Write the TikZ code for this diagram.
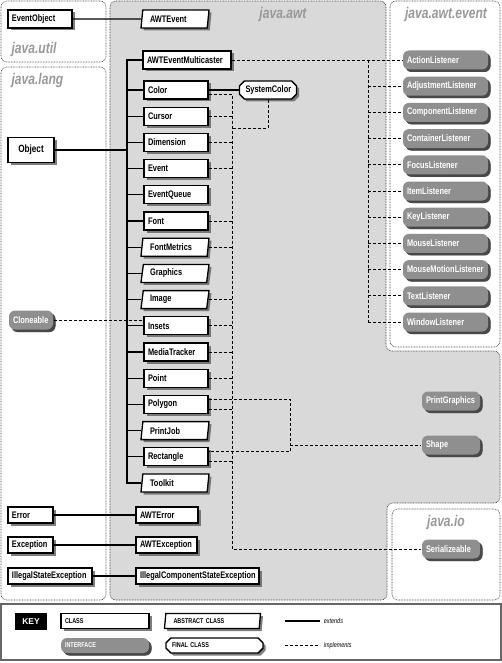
\documentclass[tikz,border=0pt]{standalone}
\usepackage{fontspec}
\newfontfamily\condfont[FakeStretch=0.78]{Liberation Sans}
\newfontfamily\keyfont{Liberation Sans}
\usepackage{tikz}
\usetikzlibrary{positioning}
\usetikzlibrary{shapes.geometric,shapes.misc,shadows}
\usepackage{xcolor}

\definecolor{awtgray}{gray}{0.85}
\definecolor{ifgray}{gray}{0.56}
\definecolor{pkggray}{gray}{0.6}

\tikzset{
  pkgframe/.style={draw=black!75, line width=0.6pt, dash pattern=on 0.8pt off 0.8pt, rounded corners=6pt},
  pkgname/.style={text=pkggray, font=\condfont\bfseries\itshape\fontsize{15.5}{15.5}\selectfont},
  basebox/.style={fill=white, line width=1.3pt, minimum height=18pt, inner xsep=4pt, inner ysep=0pt,
    text width=#1, align=left, font=\condfont\bfseries\fontsize{9.5}{11}\selectfont,
    drop shadow={shadow xshift=2.5pt, shadow yshift=-2.5pt, fill=black!60, opacity=0.85}},
  clsbox/.style={basebox=#1, draw, rectangle},
  absbox/.style={basebox=#1, draw, trapezium, trapezium left angle=75, trapezium right angle=105,
    trapezium stretches body, minimum width={#1+18}},
  finbox/.style={basebox=#1, draw, chamfered rectangle, chamfered rectangle xsep=2pt},
  ifbox/.style={basebox=#1, fill=ifgray, text=white, rounded corners=6pt, minimum height=19pt,
    drop shadow={shadow xshift=2.5pt, shadow yshift=-2.5pt, fill=black!75, opacity=0.85}},
  keytext/.style={font=\condfont\bfseries\fontsize{7}{8}\selectfont, minimum height=15pt},
  keyitalic/.style={font=\condfont\itshape\fontsize{7}{8}\selectfont, anchor=west},
  extends/.style={line width=1.1pt},
  implements/.style={line width=0.9pt, dash pattern=on 3pt off 2pt},
}

\begin{document}
\begin{tikzpicture}[x=1pt, y=-1pt]
    \useasboundingbox (0,0) rectangle (502,663);

    % Package frames
    \draw[pkgframe] (1,1) rectangle (106,62);
    \draw[pkgframe] (1,67) rectangle (106,600);
    \draw[pkgframe, fill=awtgray] (110,1) -- (386,1) -- (386,351) -- (500,351) -- (500,503)
        -- (387,503) -- (387,600) -- (110,600) -- cycle;
    \draw[pkgframe, fill=white] (390,1) rectangle (500,347);
    \draw[pkgframe, fill=white] (392,509) rectangle (500,600);
    \node[pkgname, anchor=west] (utilname) at (8,49) {java.util};
    \node[pkgname, anchor=west] (langname) at (8,80) {java.lang};
    \node[pkgname] (awtname) at (283,14) {java.awt};
    \node[pkgname] (eventname) at (446,14) {java.awt.event};
    \node[pkgname] (ioname) at (446,522) {java.io};

    % java.util and java.lang
    \node[clsbox=56] (EventObject) at (40,19) {EventObject};
    \node[clsbox=38, align=center, minimum height=25pt, font=\condfont\bfseries\fontsize{10.5}{12}\selectfont] (Object) at (31,150) {Object};
    \node[ifbox=36] (Cloneable) at (31,320) {Cloneable};
    \node[clsbox=37, minimum height=16pt] (Error) at (30.5,515) {Error};
    \node[clsbox=37, minimum height=16pt] (Exception) at (30.5,545) {Exception};
    \node[clsbox=76, minimum height=16pt] (IllegalStateException) at (50,576) {IllegalStateException};

    % java.awt classes
    \node[absbox=50] (AWTEvent) at (175,19) {AWTEvent};
    \node[clsbox=80] (AWTEventMulticaster) at (187,60) {AWTEventMulticaster};
    \foreach \n/\i in {Color/0,Cursor/1,Dimension/2,Event/3,EventQueue/4,Font/5,Insets/9,
                       MediaTracker/10,Point/11,Polygon/12,Rectangle/14}
        \node[clsbox=56] (\n) at (176,90+26.2*\i) {\n};
    \foreach \n/\i in {FontMetrics/6,Graphics/7,Image/8,PrintJob/13,Toolkit/15}
        \node[absbox=50] (\n) at (175,90+26.2*\i) {\n};
    \node[finbox=45] (SystemColor) at (268,90) {SystemColor};
    \node[clsbox=54, minimum height=16pt] (AWTError) at (167,515) {AWTError};
    \node[clsbox=53, minimum height=16pt] (AWTException) at (166.5,545) {AWTException};
    \node[clsbox=115, minimum height=16pt] (IllegalComponentStateException) at (197.5,576) {IllegalComponentStateException};
    \node[ifbox=50] (PrintGraphics) at (451,401) {PrintGraphics};
    \node[ifbox=50] (Shape) at (451,445) {Shape};

    % java.awt.event and java.io
    \foreach \n [count=\i from 0] in {ActionListener,AdjustmentListener,ComponentListener,
            ContainerListener,FocusListener,ItemListener,KeyListener,MouseListener,
            MouseMotionListener,TextListener,WindowListener}
        \node[ifbox=77] (\n) at (445.5,60+26.2*\i) {\n};
    \node[ifbox=50] (Serializeable) at (451,549) {Serializeable};

    % extends
    \coordinate (objtrunk) at (127,0);
    \draw[extends] (EventObject) -- (AWTEvent);
    \draw[extends] (Object.east) -- (Object.east -| objtrunk);
    \draw[extends] (AWTEventMulticaster.west) -| (objtrunk |- Toolkit.west) -- (Toolkit.west);
    \foreach \n in {Color,Cursor,Dimension,Event,EventQueue,Font,FontMetrics,Graphics,Image,
                    Insets,MediaTracker,Point,Polygon,PrintJob,Rectangle}
        \draw[extends] (\n.west -| objtrunk) -- (\n.west);
    \draw[extends] (Color.east) -- (SystemColor.west);
    \draw[extends] (Error) -- (AWTError);
    \draw[extends] (Exception) -- (AWTException);
    \draw[extends] (IllegalStateException) -- (IllegalComponentStateException);

    % implements
    \coordinate (sertrunk) at (232,0);
    \coordinate (shptrunk) at (290,0);
    \coordinate (lsttrunk) at (368,0);
    \coordinate (scjoin) at (232,128);
    \coordinate (colordn) at ([yshift=-4pt]Color.east);
    \coordinate (polyup) at ([yshift=5pt]Polygon.east);
    \coordinate (polydn) at ([yshift=-5pt]Polygon.east);
    \coordinate (rectup) at ([yshift=5pt]Rectangle.east);
    \coordinate (rectdn) at ([yshift=-5pt]Rectangle.east);
    \draw[implements] (colordn) -| (sertrunk |- Serializeable.west) -- (Serializeable.west);
    \foreach \n in {Cursor,Dimension,Event,Font,FontMetrics,Image,Insets,MediaTracker,Point}
        \draw[implements] (\n.east) -- (\n.east -| sertrunk);
    \draw[implements] (polydn) -- (polydn -| sertrunk);
    \draw[implements] (rectdn) -- (rectdn -| sertrunk);
    \draw[implements] (SystemColor.south) |- (scjoin);
    \draw[implements] (Cloneable.east) -- (Cloneable.east -| Insets.west);
    \draw[implements] (polyup) -| (shptrunk |- rectup) -- (rectup);
    \draw[implements] (Shape.west -| shptrunk) -- (Shape.west);
    \draw[implements] (AWTEventMulticaster.east) -- (ActionListener.west);
    \draw[implements] (ActionListener.west -| lsttrunk) -- (WindowListener.west -| lsttrunk);
    \foreach \n in {AdjustmentListener,ComponentListener,ContainerListener,FocusListener,
                    ItemListener,KeyListener,MouseListener,MouseMotionListener,TextListener,WindowListener}
        \draw[implements] (\n.west -| lsttrunk) -- (\n.west);

    % Key
    \draw[line width=1.5pt, black!60] (1,604) rectangle (501,660);
    \node[fill=black, text=white, font=\keyfont\bfseries\fontsize{8.5}{10}\selectfont,
          minimum width=32pt, minimum height=17pt] (keytag) at (31,621.5) {KEY};
    \node[clsbox=80, keytext] (keyclass) at (105,621) {CLASS};
    \node[ifbox=80, keytext] (keyiface) at (105,645.5) {INTERFACE};
    \node[absbox=78, keytext] (keyabstract) at (212.5,621) {ABSTRACT CLASS};
    \node[finbox=85, keytext] (keyfinal) at (214.5,645.5) {FINAL CLASS};
    \coordinate (extfrom) at (285,621);
    \coordinate (extto) at (320,621);
    \coordinate (implfrom) at (285,645.5);
    \coordinate (implto) at (320,645.5);
    \draw[extends] (extfrom) -- (extto) node[keyitalic] (extlabel) {extends};
    \draw[implements] (implfrom) -- (implto) node[keyitalic] (impllabel) {implements};
\end{tikzpicture}
\end{document}
